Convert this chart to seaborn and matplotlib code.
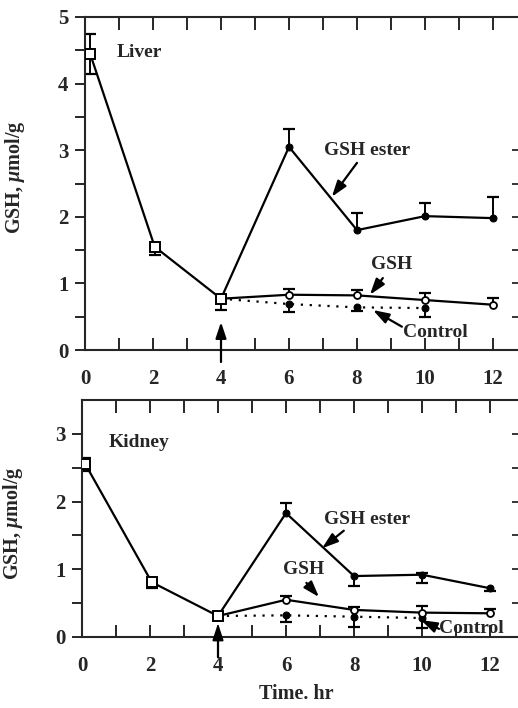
import numpy as np
import pandas as pd
import matplotlib
matplotlib.use("Agg")
import matplotlib.pyplot as plt
import seaborn as sns

# pre-treatment values (open squares), hr 0 - 4
liver_pre_time = [0.15, 2.05, 4.0]
liver_pre = [4.45, 1.55, 0.77]
liver_pre_lo = [0.30, 0.12, 0.17]
liver_pre_hi = [0.30, 0.0, 0.0]

kidney_pre_time = [0.1, 2.05, 4.0]
kidney_pre = [2.55, 0.81, 0.31]
kidney_pre_lo = [0.10, 0.09, 0.05]
kidney_pre_hi = [0.10, 0.0, 0.0]

# after treatment at 4 hr
post_time = [4, 6, 8, 10, 12]
ctrl_time = [4, 6, 8, 10]

liver_ester = [0.77, 3.05, 1.80, 2.01, 1.98]
liver_ester_lo = [0, 0, 0, 0, 0]
liver_ester_hi = [0, 0.27, 0.26, 0.19, 0.32]
liver_gsh = [0.77, 0.83, 0.82, 0.75, 0.68]
liver_gsh_hi = [0, 0.09, 0.08, 0.11, 0.10]
liver_ctrl = [0.77, 0.69, 0.64, 0.63]
liver_ctrl_lo = [0, 0.12, 0.06, 0.14]

kidney_ester = [0.31, 1.83, 0.90, 0.92, 0.72]
kidney_ester_lo = [0, 0, 0.15, 0.12, 0.04]
kidney_ester_hi = [0, 0.15, 0, 0.03, 0]
kidney_gsh = [0.31, 0.55, 0.40, 0.36, 0.35]
kidney_gsh_hi = [0, 0.06, 0.05, 0.10, 0.07]
kidney_ctrl = [0.31, 0.32, 0.30, 0.28]
kidney_ctrl_lo = [0, 0.10, 0.15, 0.14]

sns.set_style("ticks")
plt.rcParams['font.family'] = ['Liberation Serif', 'DejaVu Serif']
plt.rcParams['font.weight'] = 'bold'
plt.rcParams['mathtext.fontset'] = 'custom'
plt.rcParams['mathtext.rm'] = 'Liberation Serif:bold'
plt.rcParams['mathtext.it'] = 'Liberation Serif:italic:bold'


def errbars(ax, x, y, lo=None, hi=None):
    # one-sided error bars, like in the original figure
    x = np.asarray(x, float)
    y = np.asarray(y, float)
    for e, sign in ((lo, -1), (hi, 1)):
        if e is None:
            continue
        e = np.asarray(e, float)
        m = e > 0
        end = y[m] + sign * e[m]
        ax.vlines(x[m], y[m], end, color='black', lw=1.4, zorder=2)
        ax.plot(x[m], end, ls='none', marker='_', ms=8, mew=1.6,
                color='black', zorder=2)


def panel(ax, pre_t, pre, pre_lo, pre_hi, ester, ester_lo, ester_hi,
          gsh, gsh_hi, ctrl, ctrl_lo):
    errbars(ax, pre_t, pre, pre_lo, pre_hi)
    errbars(ax, post_time[1:], ester[1:], ester_lo[1:], ester_hi[1:])
    errbars(ax, post_time[1:], gsh[1:], None, gsh_hi[1:])
    errbars(ax, ctrl_time[1:], ctrl[1:], ctrl_lo[1:], None)

    sns.lineplot(x=ctrl_time, y=ctrl, ax=ax, color='black', lw=1.6,
                 ls=(0, (1, 3)), errorbar=None, zorder=3)
    sns.lineplot(x=ctrl_time[1:], y=ctrl[1:], ax=ax, color='black', lw=0,
                 marker='o', ms=5, markeredgecolor='black', errorbar=None, zorder=5)
    sns.lineplot(x=post_time, y=gsh, ax=ax, color='black', lw=1.6,
                 errorbar=None, zorder=3)
    sns.lineplot(x=post_time[1:], y=gsh[1:], ax=ax, color='black', lw=0,
                 marker='o', ms=5, markerfacecolor='white',
                 markeredgecolor='black', markeredgewidth=1.3, errorbar=None, zorder=5)
    sns.lineplot(x=post_time, y=ester, ax=ax, color='black', lw=1.6,
                 errorbar=None, zorder=3)
    sns.lineplot(x=post_time[1:], y=ester[1:], ax=ax, color='black', lw=0,
                 marker='o', ms=5, markeredgecolor='black', errorbar=None, zorder=5)
    sns.lineplot(x=pre_t, y=pre, ax=ax, color='black', lw=1.6, marker='s',
                 ms=7, markerfacecolor='white', markeredgecolor='black',
                 markeredgewidth=1.4, errorbar=None, zorder=6)


def style(ax, xmax, ymax, yticks):
    ax.set_xlim(0, xmax)
    ax.set_ylim(0, ymax)
    ax.set_xticks(range(0, 13, 2))
    ax.set_xticks(range(1, 13, 2), minor=True)
    ax.set_yticks(yticks)
    ax.set_yticks(np.arange(0.5, ymax, 1.0), minor=True)
    ax.tick_params(axis='x', which='both', direction='in', top=True,
                   length=9, width=1.4, labelsize=15, pad=14)
    ax.tick_params(axis='y', which='both', direction='out', length=7,
                   width=1.4, labelsize=15, pad=5)
    ax.spines['right'].set_visible(False)
    for s in ('left', 'top', 'bottom'):
        ax.spines[s].set_linewidth(1.5)
    axr = ax.twinx()
    axr.set_ylim(0, ymax)
    axr.set_yticks(np.arange(0.5, 3.01, 0.5))
    axr.tick_params(axis='y', direction='in', length=6, width=1.3,
                    labelright=False)
    for s in axr.spines.values():
        s.set_visible(False)


fig = plt.figure(figsize=(5.18, 7.08), dpi=100)
ax1 = fig.add_axes([85 / 518, 358 / 708, 435 / 518, 333 / 708])
ax2 = fig.add_axes([82 / 518, 71 / 708, 438 / 518, 237 / 708])

panel(ax1, liver_pre_time, liver_pre, liver_pre_lo, liver_pre_hi,
      liver_ester, liver_ester_lo, liver_ester_hi,
      liver_gsh, liver_gsh_hi, liver_ctrl, liver_ctrl_lo)
panel(ax2, kidney_pre_time, kidney_pre, kidney_pre_lo, kidney_pre_hi,
      kidney_ester, kidney_ester_lo, kidney_ester_hi,
      kidney_gsh, kidney_gsh_hi, kidney_ctrl, kidney_ctrl_lo)

style(ax1, 435 / 34, 5, range(0, 6))
style(ax2, 438 / 34, 3.5, range(0, 4))

arrow = dict(arrowstyle='-|>,head_length=0.6,head_width=0.2', lw=1.6,
             color='black', mutation_scale=16, shrinkA=0, shrinkB=0)
tfont = dict(fontsize=14, fontweight='bold', ha='center', va='center')

# liver
ax1.text(1.6, 4.47, "Liver", **tfont)
ax1.text(8.3, 3.0, "GSH ester", **tfont)
ax1.annotate("", xy=(7.26, 2.3), xytext=(8.0, 2.81), arrowprops=arrow)
ax1.text(9.03, 1.28, "GSH", **tfont)
ax1.annotate("", xy=(8.38, 0.83), xytext=(8.76, 1.08), arrowprops=arrow)
ax1.text(10.3, 0.26, "Control", **tfont)
ax1.annotate("", xy=(8.47, 0.6), xytext=(9.32, 0.35), arrowprops=arrow)
ax1.annotate("", xy=(4.0, 0.42), xytext=(4.0, -0.18), arrowprops=arrow,
             annotation_clip=False)

# kidney
ax2.text(1.68, 2.87, "Kidney", **tfont)
ax2.text(8.38, 1.74, "GSH ester", **tfont)
ax2.annotate("", xy=(7.06, 1.31), xytext=(7.7, 1.57), arrowprops=arrow)
ax2.text(6.53, 0.99, "GSH", **tfont)
ax2.annotate("", xy=(6.97, 0.59), xytext=(6.6, 0.8), arrowprops=arrow)
ax2.text(11.45, 0.12, "Control", **tfont)
ax2.annotate("", xy=(9.97, 0.25), xytext=(10.5, 0.12), arrowprops=arrow)
ax2.annotate("", xy=(4.0, 0.2), xytext=(4.0, -0.3), arrowprops=arrow,
             annotation_clip=False)

for ax, lx, ly in ((ax1, -0.133, 0.52), (ax2, -0.13, 0.48)):
    ax.set_ylabel("GSH, $\\mu$mol/g", fontsize=14.5, fontweight='bold')
    ax.yaxis.set_label_coords(lx, ly)
    ax.set_xlabel("")

ax2.set_xlabel("Time. hr", fontsize=14.5, fontweight='bold')
ax2.xaxis.set_label_coords(0.49, -0.2)

fig.savefig("out.png", dpi=100)
